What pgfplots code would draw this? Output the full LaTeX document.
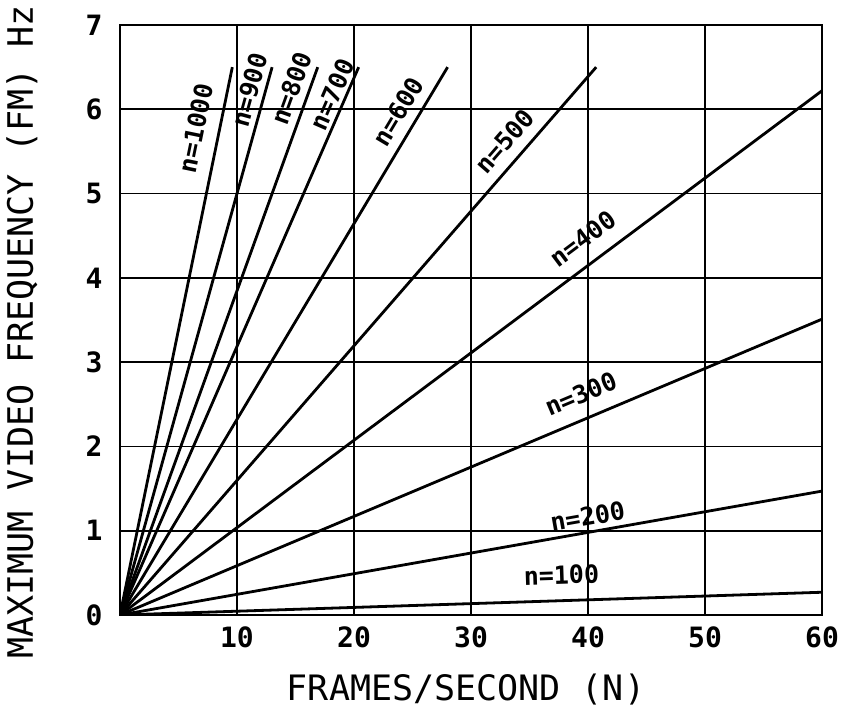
\documentclass[border=0pt]{standalone}
\usepackage{fontspec}
\setmainfont{DejaVu Sans Mono}
\usepackage{pgfplots}
\pgfplotsset{compat=1.18}
\tikzset{lab/.style={font=\bfseries\fontsize{25}{25}\selectfont, inner sep=0pt, black, sloped},
  ln/.style={black, solid, line width=2.8pt, mark=none}}
\begin{document}
\begin{tikzpicture}
\path[use as bounding box] (-120pt,-110pt) rectangle (722pt,615pt);
\begin{axis}[
  scale only axis, width=702pt, height=590pt,
  xmin=0, xmax=60, ymin=0, ymax=7,
  xtick={10,20,30,40,50,60}, ytick={0,1,2,3,4,5,6,7},
  grid=major, major grid style={black, line width=1.8pt},
  axis line style={black, line width=2.2pt},
  major tick length=0pt,
  /pgf/number format/assume math mode=true,
  tick label style={font=\bfseries\fontsize{28}{28}\selectfont},
  yticklabel style={xshift=-14pt},
  xticklabel style={yshift=-8pt},
  xlabel={FRAMES/SECOND (N)},
  ylabel={MAXIMUM VIDEO FREQUENCY (FM) Hz},
  every axis x label/.style={at={(axis description cs:0.5,0)}, anchor=center, xshift=-5pt, yshift=-75pt, font=\fontsize{35}{35}\selectfont},
  every axis y label/.style={at={(axis description cs:0,0.5)}, anchor=center, xshift=-98pt, yshift=-12pt, rotate=90, font=\fontsize{35}{35}\selectfont},
]
\addplot[ln] coordinates {(0,0) (60,0.27)} node[lab, pos=0.63, above=15pt] {n=100};
\addplot[ln] coordinates {(0,0) (60,1.47)} node[lab, pos=0.67, above=5pt] {n=200};
\addplot[ln] coordinates {(0,0) (60,3.51)} node[lab, pos=0.67, above=14pt] {n=300};
\addplot[ln] coordinates {(0,0) (60,6.22)} node[lab, pos=0.68, above=14pt] {n=400};
\addplot[ln] coordinates {(0,0) (40.7,6.5)} node[lab, pos=0.84, above=10pt] {n=500};
\addplot[ln] coordinates {(0,0) (28.0,6.5)} node[lab, pos=0.90, above=9pt] {n=600};
\addplot[ln] coordinates {(0,0) (20.4,6.5)} node[lab, pos=0.94, above=3pt] {n=700};
\addplot[ln] coordinates {(0,0) (16.9,6.5)} node[lab, pos=0.95, above=7pt] {n=800};
\addplot[ln] coordinates {(0,0) (13.0,6.5)} node[lab, pos=0.95, above=5pt] {n=900};
\addplot[ln] coordinates {(0,0) (9.6,6.5)} node[lab, pos=0.88, above=13pt] {n=1000};
\end{axis}
\end{tikzpicture}
\end{document}
